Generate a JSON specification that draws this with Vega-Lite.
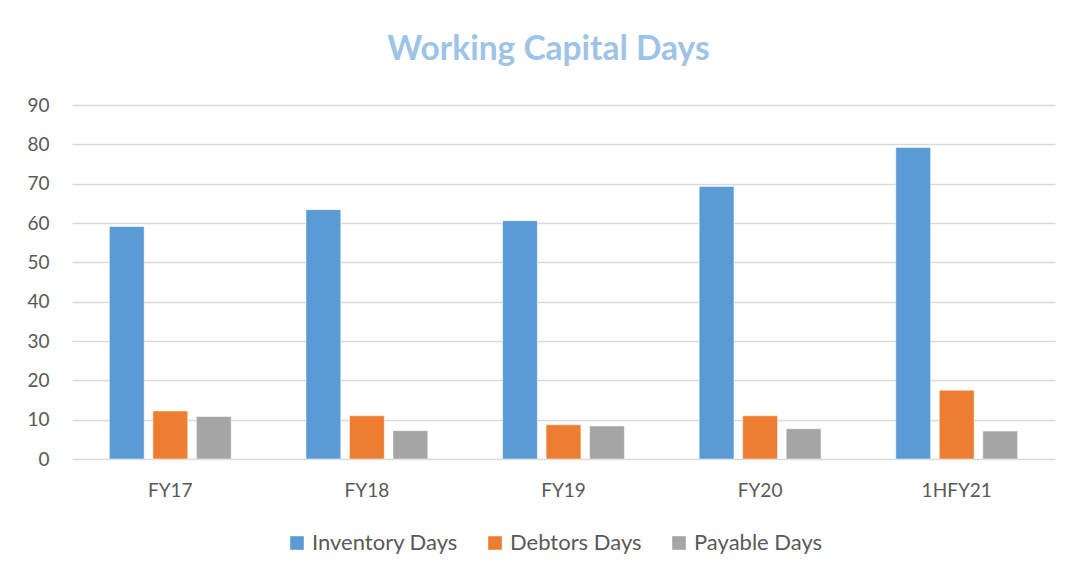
{
  "$schema": "https://vega.github.io/schema/vega-lite/v6.json",
  "width": 983,
  "height": 354,
  "autosize": {"type": "none"},
  "padding": {"left": 72, "top": 105, "right": 19, "bottom": 120},
  "background": "white",
  "title": {
    "text": "Working Capital Days",
    "color": "#9DC3E6",
    "font": "Lato",
    "fontWeight": "bold",
    "fontSize": 33.5,
    "anchor": "middle",
    "dx": -15,
    "offset": 29
  },
  "data": {
    "values": [
      {"year": "FY17", "metric": "Inventory Days", "days": 59.1},
      {"year": "FY17", "metric": "Debtors Days", "days": 12.2},
      {"year": "FY17", "metric": "Payable Days", "days": 10.8},
      {"year": "FY18", "metric": "Inventory Days", "days": 63.4},
      {"year": "FY18", "metric": "Debtors Days", "days": 11.0},
      {"year": "FY18", "metric": "Payable Days", "days": 7.2},
      {"year": "FY19", "metric": "Inventory Days", "days": 60.6},
      {"year": "FY19", "metric": "Debtors Days", "days": 8.7},
      {"year": "FY19", "metric": "Payable Days", "days": 8.4},
      {"year": "FY20", "metric": "Inventory Days", "days": 69.3},
      {"year": "FY20", "metric": "Debtors Days", "days": 11.0},
      {"year": "FY20", "metric": "Payable Days", "days": 7.7},
      {"year": "1HFY21", "metric": "Inventory Days", "days": 79.2},
      {"year": "1HFY21", "metric": "Debtors Days", "days": 17.5},
      {"year": "1HFY21", "metric": "Payable Days", "days": 7.1}
    ]
  },
  "mark": {"type": "bar", "stroke": "white", "strokeWidth": 0.5},
  "encoding": {
    "x": {
      "field": "year",
      "type": "nominal",
      "sort": ["FY17", "FY18", "FY19", "FY20", "1HFY21"],
      "scale": {"paddingInner": 0.336, "paddingOuter": 0.168},
      "axis": {
        "title": null,
        "labelAngle": 0,
        "ticks": false,
        "domain": false,
        "labelFont": "Lato",
        "labelFontSize": 19,
        "labelColor": "#595959",
        "labelPadding": 22
      }
    },
    "xOffset": {
      "field": "metric",
      "type": "nominal",
      "sort": ["Inventory Days", "Debtors Days", "Payable Days"],
      "scale": {"paddingInner": 0.2, "paddingOuter": 0.1}
    },
    "y": {
      "field": "days",
      "type": "quantitative",
      "scale": {"domain": [0, 90]},
      "axis": {
        "title": null,
        "values": [0, 10, 20, 30, 40, 50, 60, 70, 80, 90],
        "ticks": false,
        "domain": false,
        "grid": true,
        "gridColor": "#D9D9D9",
        "gridWidth": 1.5,
        "labelFont": "Lato",
        "labelFontSize": 19,
        "labelColor": "#595959",
        "labelPadding": 23
      }
    },
    "color": {
      "field": "metric",
      "type": "nominal",
      "sort": ["Inventory Days", "Debtors Days", "Payable Days"],
      "scale": {
        "domain": ["Inventory Days", "Debtors Days", "Payable Days"],
        "range": ["#5B9BD5", "#ED7D31", "#A5A5A5"]
      },
      "legend": {
        "title": null,
        "orient": "none",
        "direction": "horizontal",
        "legendX": 214,
        "legendY": 427,
        "symbolType": "square",
        "symbolSize": 185,
        "symbolStrokeWidth": 0,
        "labelFont": "Lato",
        "labelFontSize": 22,
        "labelColor": "#595959",
        "columnPadding": 26,
        "labelOffset": 4
      }
    }
  },
  "config": {
    "view": {"stroke": null},
    "axis": {"gridColor": "#D9D9D9"}
  }
}
